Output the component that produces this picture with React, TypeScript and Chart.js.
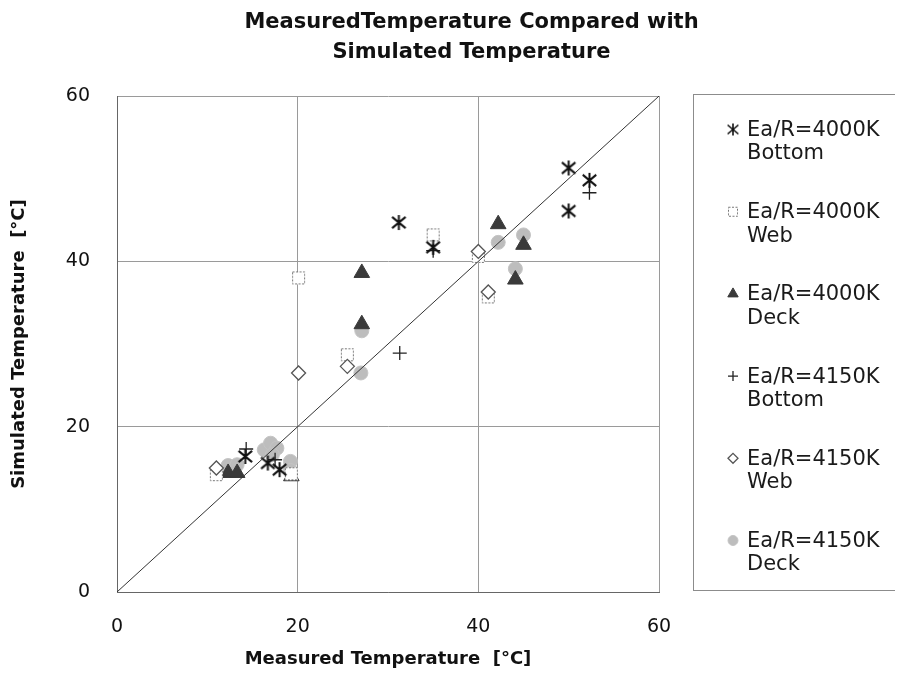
import React, { useEffect, useRef } from 'react';
import { Chart, registerables } from 'chart.js';
import { drawPoint } from 'chart.js/helpers';

Chart.register(...registerables);

// ---------- data ----------
const titleLines = ['MeasuredTemperature Compared with', 'Simulated Temperature'];
const xAxisTitle = 'Measured Temperature  [°C]';
const yAxisTitle = 'Simulated Temperature  [°C]';
const axisMin = 0;
const axisMax = 60;
const axisStep = 20;

const seriesLabels: string[][] = [
  ['Ea/R=4000K', 'Bottom'],
  ['Ea/R=4000K', 'Web'],
  ['Ea/R=4000K', 'Deck'],
  ['Ea/R=4150K', 'Bottom'],
  ['Ea/R=4150K', 'Web'],
  ['Ea/R=4150K', 'Deck'],
];

const bottom4000: [number, number][] = [
  [14.2, 16.4], [16.7, 15.6], [18.0, 14.8], [31.2, 44.7], [35.0, 41.7],
  [50.0, 51.3], [52.3, 49.8], [50.0, 46.1],
];
const web4000: [number, number][] = [
  [11.0, 14.2], [19.3, 14.3], [20.1, 38.0], [25.5, 28.7], [35.0, 43.2],
  [40.0, 40.6], [41.1, 35.7],
];
const deck4000: [number, number][] = [
  [12.3, 14.4], [13.3, 14.4], [19.3, 14.0], [27.1, 38.6], [27.1, 32.4],
  [42.2, 44.5], [45.0, 42.0], [44.1, 37.8],
];
const bottom4150: [number, number][] = [
  [14.3, 17.3], [17.5, 16.0], [31.3, 28.9], [35.0, 41.3], [52.3, 48.3],
];
const web4150: [number, number][] = [
  [11.0, 15.0], [20.1, 26.5], [25.5, 27.3], [40.0, 41.2], [41.1, 36.3],
];
const deck4150: [number, number][] = [
  [12.3, 15.3], [13.3, 15.4], [16.3, 17.2], [17.0, 18.0], [17.7, 17.4],
  [17.2, 16.6], [19.2, 15.8], [19.2, 14.7], [27.1, 31.6], [27.0, 26.5],
  [42.2, 42.3], [44.1, 39.1], [45.0, 43.2],
];
const refLine: [number, number][] = [[0, 0], [60, 60]];

// ---------- styles ----------
const FONT = 'Verdana, "DejaVu Sans", sans-serif';
const seriesData = [bottom4000, web4000, deck4000, bottom4150, web4150, deck4150];

function makeAsterisk(size: number, lw: number): HTMLCanvasElement {
  const c = document.createElement('canvas');
  c.width = size + 4;
  c.height = size + 4;
  const g = c.getContext('2d')!;
  const m = c.width / 2;
  const h = size / 2;
  g.strokeStyle = '#111';
  g.lineWidth = lw;
  g.beginPath();
  g.moveTo(m, m - h); g.lineTo(m, m + h);
  g.moveTo(m - h * 0.9, m - h * 0.75); g.lineTo(m + h * 0.9, m + h * 0.75);
  g.moveTo(m - h * 0.9, m + h * 0.75); g.lineTo(m + h * 0.9, m - h * 0.75);
  g.stroke();
  return c;
}

function makeDashedSquare(size: number): HTMLCanvasElement {
  const c = document.createElement('canvas');
  c.width = size + 2;
  c.height = size + 2;
  const g = c.getContext('2d')!;
  g.fillStyle = '#ffffff';
  g.fillRect(1, 1, size, size);
  g.strokeStyle = '#777';
  g.lineWidth = 1;
  g.setLineDash([2, 1.5]);
  g.strokeRect(1.5, 1.5, size - 1, size - 1);
  return c;
}

const seriesStyles = [
  { pointStyle: 'asterisk', radius: 8, fill: '#111', stroke: '#111', width: 2 },
  { pointStyle: 'dashsq', radius: 9, fill: '#ffffff', stroke: '#8a8a8a', width: 1.2 },
  { pointStyle: 'triangle', radius: 9, fill: '#3a3a3a', stroke: '#3a3a3a', width: 1 },
  { pointStyle: 'cross', radius: 7, fill: '#222', stroke: '#222', width: 1.3 },
  { pointStyle: 'rectRot', radius: 7, fill: '#ffffff', stroke: '#555', width: 1.3 },
  { pointStyle: 'circle', radius: 7, fill: '#bdbdbd', stroke: '#c4c4c4', width: 1 },
];
// draw order (first = on top)
const drawOrder = [0, 3, 4, 1, 2, 5];

const toXY = (arr: [number, number][]) => arr.map(([x, y]) => ({ x, y }));

const CANVAS_W = 927;
const CANVAS_H = 665;

export default function App() {
  const ref = useRef<HTMLCanvasElement | null>(null);
  useEffect(() => {
    if (!ref.current) return;
    const plotImages: Record<string, HTMLCanvasElement> = {
      asterisk: makeAsterisk(15, 2),
      dashsq: makeDashedSquare(13),
    };
    const legendImages: Record<string, HTMLCanvasElement> = {
      asterisk: makeAsterisk(12, 1.6),
      dashsq: makeDashedSquare(10),
    };
    const resolve = (style: string, imgs: Record<string, HTMLCanvasElement>) => imgs[style] || style;

    const legendPlugin = {
      id: 'boxLegend',
      afterDraw(chart: any) {
        const ctx = chart.ctx as CanvasRenderingContext2D;
        ctx.save();
        ctx.strokeStyle = '#8c8c8c';
        ctx.lineWidth = 1;
        ctx.strokeRect(685.5, 86.5, 260, 496);
        const startY = 121.5;
        const stepY = 82.2;
        seriesLabels.forEach((lines, i) => {
          const st = seriesStyles[i];
          const cy = startY + i * stepY;
          ctx.fillStyle = st.fill;
          ctx.strokeStyle = st.stroke;
          ctx.lineWidth = st.width;
          drawPoint(ctx, { pointStyle: resolve(st.pointStyle, legendImages) as any, rotation: 0, radius: Math.max(5, st.radius - 3), borderWidth: st.width }, 725, cy);
          ctx.fillStyle = '#1a1a1a';
          ctx.font = `21px ${FONT}`;
          ctx.textAlign = 'left';
          ctx.textBaseline = 'middle';
          lines.forEach((t, j) => ctx.fillText(t, 739, cy + 1 + j * 23.5));
        });
        ctx.restore();
      },
    };

    const datasets: any[] = [
      {
        label: 'y=x',
        data: toXY(refLine),
        showLine: true,
        borderColor: '#333',
        borderWidth: 1,
        pointRadius: 0,
        order: 0,
      },
    ];
    drawOrder.forEach((idx, k) => {
      const st = seriesStyles[idx];
      datasets.push({
        label: seriesLabels[idx].join(' '),
        data: toXY(seriesData[idx]),
        pointStyle: resolve(st.pointStyle, plotImages),
        pointRadius: st.radius,
        pointBackgroundColor: st.fill,
        pointBorderColor: st.stroke,
        pointBorderWidth: st.width,
        showLine: false,
        order: k + 1,
      });
    });
    const chart = new Chart(ref.current, {
      type: 'scatter',
      data: { datasets },
      plugins: [legendPlugin],
      options: {
        animation: false,
        responsive: false,
        maintainAspectRatio: false,
        layout: { padding: 0 },
        plugins: {
          legend: { display: false },
          tooltip: { enabled: false },
          title: {
            display: true,
            text: titleLines,
            fullSize: true,
            color: '#111',
            font: { family: FONT, size: 21, weight: 'bold', lineHeight: 1.43 },
            padding: { top: 0, bottom: 28 },
          },
        },
        scales: {
          x: {
            type: 'linear',
            position: 'bottom',
            min: axisMin,
            max: axisMax,
            afterFit: (s: any) => { s.height = 81; },
            ticks: { stepSize: axisStep, padding: 24, color: '#111', font: { family: FONT, size: 19 } },
            grid: { color: '#9a9a9a', drawTicks: false, lineWidth: 1 },
            border: { color: '#666', width: 1 },
            title: {
              display: true,
              text: xAxisTitle,
              color: '#111',
              font: { family: FONT, size: 18, weight: 'bold' },
              padding: { top: 0, bottom: 3 },
            },
          },
          y: {
            type: 'linear',
            position: 'left',
            min: axisMin,
            max: axisMax,
            afterFit: (s: any) => { s.width = 109; },
            ticks: { stepSize: axisStep, padding: 27, color: '#111', font: { family: FONT, size: 19 } },
            grid: { color: '#9a9a9a', drawTicks: false, lineWidth: 1 },
            border: { color: '#666', width: 1 },
            title: {
              display: true,
              text: yAxisTitle,
              color: '#111',
              font: { family: FONT, size: 18, weight: 'bold' },
              padding: { top: 1, bottom: 0 },
            },
          },
          legendSpace: {
            type: 'linear',
            position: 'right',
            display: true,
            min: axisMin,
            max: axisMax,
            afterFit: (s: any) => { s.width = CANVAS_W - 651; },
            ticks: { display: false },
            grid: { display: false, drawTicks: false },
            border: { display: false },
            title: { display: false },
          },
        },
      } as any,
    });
    return () => chart.destroy();
  }, []);
  return (
    <div style={{ width: 887, height: CANVAS_H, overflow: 'hidden' }}>
      <canvas ref={ref} width={CANVAS_W} height={CANVAS_H} style={{ display: 'block' }} />
    </div>
  );
}
